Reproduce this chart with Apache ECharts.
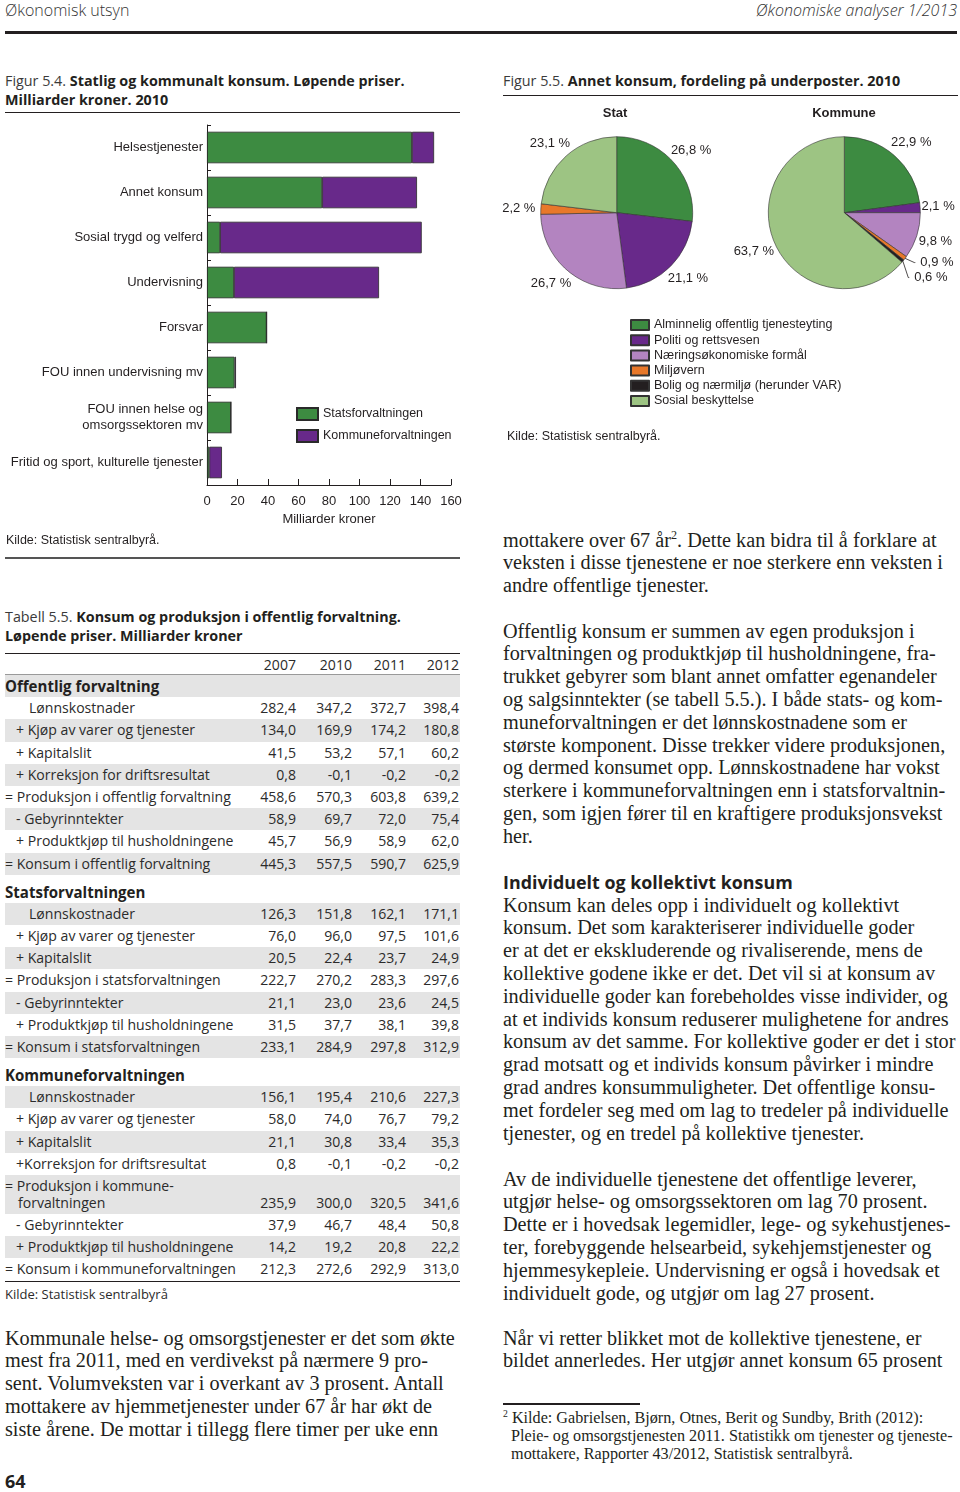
<!DOCTYPE html>
<html><head><meta charset="utf-8">
<script src="https://cdn.jsdelivr.net/npm/echarts@6/dist/echarts.min.js"></script>
<style>
html,body{margin:0;padding:0;background:#fff;}
#page{position:relative;width:960px;height:1492px;overflow:hidden;color:#231f20;}
.abs{position:absolute;white-space:nowrap;}
.sans{font-family:"Open Sans","Noto Sans",sans-serif;}
.arial{font-family:"Liberation Sans",Arial,sans-serif;}
.serif{font-family:"Liberation Serif","Times New Roman",serif;}
.body{line-height:22.8px;font-size:18px;}
.rule{position:absolute;background:#231f20;}
.ttl{font-size:15px;line-height:18.5px;color:#231f20;}
.ttl b{font-weight:700;}
.ttl .lt{color:#3a3a3a;font-weight:400;}
.tab{font-size:14px;color:#2b2b2b;}
.row{position:absolute;left:0;width:455px;}
.row.sh{background:#e4e4e4;}
.cell{position:absolute;top:0;white-space:nowrap;}
.val{text-align:right;width:60px;}
sup{font-size:60%;line-height:0;vertical-align:super;}
</style></head>
<body><div id="page">
  <!-- page header -->
  <div class="abs sans" style="left:5px;top:-1px;font-size:16px;color:#333;font-weight:300;">Økonomisk utsyn</div>
  <div class="abs sans" style="right:3px;top:-1px;font-size:16px;color:#333;font-style:italic;font-weight:300;">Økonomiske analyser 1/2013</div>
  <div class="rule" style="left:5px;top:31px;width:952px;height:3px;"></div>

  <!-- figure 5.4 title -->
  <div class="abs sans ttl" style="left:5px;top:72px;"><span id="ttlRef"><span class="lt">Figur 5.4. </span><b>Statlig og kommunalt konsum. Løpende priser.</b></span><br><b>Milliarder kroner. 2010</b></div>
  <div class="rule" style="left:5px;top:112px;width:455px;height:1px;"></div>
  <div id="bar" style="position:absolute;left:0;top:115px;width:470px;height:440px;"></div>
  <div class="abs arial" style="left:6px;top:533px;font-size:12.5px;">Kilde: Statistisk sentralbyrå.</div>
  <div class="rule" style="left:5px;top:557px;width:455px;height:2px;background:#555;"></div>

  <!-- figure 5.5 title -->
  <div class="abs sans ttl" style="left:503px;top:72px;"><span class="lt">Figur 5.5. </span><b>Annet konsum, fordeling på underposter. 2010</b></div>
  <div class="rule" style="left:503px;top:95px;width:455px;height:1px;"></div>
  <div id="pie" style="position:absolute;left:480px;top:100px;width:480px;height:330px;"></div>
  <div class="abs arial" style="left:507px;top:429px;font-size:12.5px;">Kilde: Statistisk sentralbyrå.</div>

  <!-- table -->
  <div class="abs sans ttl" style="left:5px;top:608px;"><span class="lt">Tabell 5.5. </span><b>Konsum og produksjon i offentlig forvaltning.</b><br><b>Løpende priser. Milliarder kroner</b></div>
  <div id="table" class="sans tab" style="position:absolute;left:5px;top:653px;width:455px;height:640px;"></div>

  <!-- left body text -->
  <div class="abs serif body" style="left:5px;top:1326.6px;"><span id="bodyRef">Kommunale helse- og omsorgstjenester er det som økte</span><br>mest fra 2011, med en verdivekst på nærmere 9 pro-<br>sent. Volumveksten var i overkant av 3 prosent. Antall<br>mottakere av hjemmetjenester under 67 år har økt de<br>siste årene. De mottar i tillegg flere timer per uke enn</div>
  <div class="abs sans" style="left:5px;top:1469px;font-size:18px;font-weight:700;">64</div>

  <!-- right body text -->
  <div class="abs serif body" style="left:503px;top:528.6px;">mottakere over 67 år<sup>2</sup>. Dette kan bidra til å forklare at<br>veksten i disse tjenestene er noe sterkere enn veksten i<br>andre offentlige tjenester.</div>
  <div class="abs serif body" style="left:503px;top:619.6px;">Offentlig konsum er summen av egen produksjon i<br>forvaltningen og produktkjøp til husholdningene, fra-<br>trukket gebyrer som blant annet omfatter egenandeler<br>og salgsinntekter (se tabell 5.5.). I både stats- og kom-<br>muneforvaltningen er det lønnskostnadene som er<br>største komponent. Disse trekker videre produksjonen,<br>og dermed konsumet opp. Lønnskostnadene har vokst<br>sterkere i kommuneforvaltningen enn i statsforvaltnin-<br>gen, som igjen fører til en kraftigere produksjonsvekst<br>her.</div>
  <div id="heading" class="abs sans" style="left:503px;top:870px;font-size:17px;font-weight:700;line-height:24px;">Individuelt og kollektivt konsum</div>
  <div class="abs serif body" style="left:503px;top:893.6px;">Konsum kan deles opp i individuelt og kollektivt<br>konsum. Det som karakteriserer individuelle goder<br>er at det er ekskluderende og rivaliserende, mens de<br>kollektive godene ikke er det. Det vil si at konsum av<br>individuelle goder kan forebeholdes visse individer, og<br>at et individs konsum reduserer mulighetene for andres<br>konsum av det samme. For kollektive goder er det i stor<br>grad motsatt og et individs konsum påvirker i mindre<br>grad andres konsummuligheter. Det offentlige konsu-<br>met fordeler seg med om lag to tredeler på individuelle<br>tjenester, og en tredel på kollektive tjenester.</div>
  <div class="abs serif body" style="left:503px;top:1167.6px;">Av de individuelle tjenestene det offentlige leverer,<br>utgjør helse- og omsorgssektoren om lag 70 prosent.<br>Dette er i hovedsak legemidler, lege- og sykehustjenes-<br>ter, forebyggende helsearbeid, sykehjemstjenester og<br>hjemmesykepleie. Undervisning er også i hovedsak et<br>individuelt gode, og utgjør om lag 27 prosent.</div>
  <div class="abs serif body" style="left:503px;top:1326.6px;">Når vi retter blikket mot de kollektive tjenestene, er<br>bildet annerledes. Her utgjør annet konsum 65 prosent</div>
  <div class="rule" style="left:503px;top:1403px;width:137px;height:2px;"></div>
  <div id="foot" class="abs serif" style="left:503px;top:1409px;font-size:14px;line-height:18px;"><sup>2</sup> Kilde: Gabrielsen, Bjørn, Otnes, Berit og Sundby, Brith (2012):<br>&nbsp;&nbsp;<span id="footRef">Pleie- og omsorgstjenesten 2011. Statistikk om tjenester og tjeneste-</span><br>&nbsp;&nbsp;mottakere, Rapporter 43/2012, Statistisk sentralbyrå.</div>
</div>
<script>
// ---------- Figure 5.4 data ----------
const barCategories = ['Helsestjenester','Annet konsum','Sosial trygd og velferd','Undervisning','Forsvar','FOU innen undervisning mv','FOU innen helse og\nomsorgssektoren mv','Fritid og sport, kulturelle tjenester'];
const statsValues = [134.4, 75.5, 8.6, 17.7, 39.1, 18.1, 15.7, 1.5];
const kommuneValues = [14.5, 62.2, 132.2, 95.1, 0, 0.9, 0, 8.3];
const barSeriesNames = ['Statsforvaltningen','Kommuneforvaltningen'];
const xAxisMin = 0, xAxisMax = 160, xAxisStep = 20;

// ---------- Figure 5.5 data ----------
const pieCategories = ['Alminnelig offentlig tjenesteyting','Politi og rettsvesen','Næringsøkonomiske formål','Miljøvern','Bolig og nærmiljø (herunder VAR)','Sosial beskyttelse'];
const statShares = [26.8, 21.1, 26.7, 2.2, 0, 23.1];
const kommuneShares = [22.9, 2.1, 9.8, 0.9, 0.6, 63.7];
const pieTitles = ['Stat','Kommune'];

// ---------- Table 5.5 data ----------
const tabYears = ['2007','2010','2011','2012'];
const offLabels = ['Lønnskostnader','+ Kjøp av varer og tjenester','+ Kapitalslit','+ Korreksjon for driftsresultat','= Produksjon i offentlig forvaltning','- Gebyrinntekter','+ Produktkjøp til husholdningene','= Konsum i offentlig forvaltning'];
const offValues = [[282.4,347.2,372.7,398.4],[134.0,169.9,174.2,180.8],[41.5,53.2,57.1,60.2],[0.8,-0.1,-0.2,-0.2],[458.6,570.3,603.8,639.2],[58.9,69.7,72.0,75.4],[45.7,56.9,58.9,62.0],[445.3,557.5,590.7,625.9]];
const statLabels = ['Lønnskostnader','+ Kjøp av varer og tjenester','+ Kapitalslit','= Produksjon i statsforvaltningen','- Gebyrinntekter','+ Produktkjøp til husholdningene','= Konsum i statsforvaltningen'];
const statValues = [[126.3,151.8,162.1,171.1],[76.0,96.0,97.5,101.6],[20.5,22.4,23.7,24.9],[222.7,270.2,283.3,297.6],[21.1,23.0,23.6,24.5],[31.5,37.7,38.1,39.8],[233.1,284.9,297.8,312.9]];
const komLabels = ['Lønnskostnader','+ Kjøp av varer og tjenester','+ Kapitalslit','+Korreksjon for driftsresultat','= Produksjon i kommune-\nforvaltningen','- Gebyrinntekter','+ Produktkjøp til husholdningene','= Konsum i kommuneforvaltningen'];
const komValues = [[156.1,195.4,210.6,227.3],[58.0,74.0,76.7,79.2],[21.1,30.8,33.4,35.3],[0.8,-0.1,-0.2,-0.2],[235.9,300.0,320.5,341.6],[37.9,46.7,48.4,50.8],[14.2,19.2,20.8,22.2],[212.3,272.6,292.9,313.0]];
const sectionTitles = ['Offentlig forvaltning','Statsforvaltningen','Kommuneforvaltningen'];

// ---------- styling ----------
const GREEN = '#3d8b41', PURPLE = '#68298a';
const pieColors = ['#3d8b41','#68298a','#b384c0','#e8782a','#231f20','#9dc483'];
const INK = '#231f20';
const FONT = '"Liberation Sans", Arial, sans-serif';
const fmt = v => v.toFixed(1).replace('.', ',');

// ---------- bar chart ----------
const bar = echarts.init(document.getElementById('bar'));
bar.setOption({
  animation:false,
  textStyle:{fontFamily:FONT,color:INK},
  grid:{left:207,right:19,top:10,bottom:70},
  legend:{orient:'vertical',left:296,top:292,padding:0,itemWidth:21,itemHeight:12,itemGap:8,icon:'rect',
    textStyle:{fontSize:12.5,color:INK,fontFamily:FONT},data:barSeriesNames},
  xAxis:{type:'value',min:xAxisMin,max:xAxisMax,interval:xAxisStep,
    axisLine:{show:true,lineStyle:{color:INK,width:1}},
    axisTick:{show:true,inside:true,length:6,lineStyle:{color:INK}},
    axisLabel:{fontSize:13,color:INK,margin:10,fontFamily:FONT},
    splitLine:{show:false},
    name:'Milliarder kroner',nameLocation:'middle',nameGap:28,
    nameTextStyle:{fontSize:13,color:INK,fontFamily:FONT}},
  yAxis:{type:'category',inverse:true,data:barCategories,
    axisLine:{show:true,lineStyle:{color:INK,width:1}},
    axisTick:{show:true,inside:true,length:4,lineStyle:{color:INK}},
    axisLabel:{fontSize:13,color:INK,margin:4,lineHeight:16,fontFamily:FONT}},
  series:[
    {name:barSeriesNames[0],type:'bar',stack:'t',data:statsValues,barCategoryGap:'30%',
      itemStyle:{color:GREEN,borderColor:'#2a2a2a',borderWidth:0.8}},
    {name:barSeriesNames[1],type:'bar',stack:'t',data:kommuneValues,barCategoryGap:'30%',
      itemStyle:{color:PURPLE,borderColor:'#2a2a2a',borderWidth:0.8}}
  ]
});

// ---------- pie charts ----------
const leaderCats = ['Miljøvern','Bolig og nærmiljø (herunder VAR)'];
function pieData(shares, useLeaders){
  const out = [];
  shares.forEach((v,i)=>{
    if(v<=0) return;
    const d = {name:pieCategories[i], value:v, itemStyle:{color:pieColors[i]}};
    if(useLeaders && leaderCats.includes(pieCategories[i])) {
      d.labelLine = {show:true,length:7,length2:1,lineStyle:{color:INK,width:0.8}};
      d.leader = true;
    }
    out.push(d);
  });
  return out;
}
const statPie = pieData(statShares,false);
const komPie = pieData(kommuneShares,true);
const pieSets = [statPie, komPie];
const pieLabel = {show:true,position:'outside',fontSize:13,color:INK,fontFamily:FONT,overflow:'none',
  formatter:p=>fmt(p.value)+' %'};
function pieLabelLayout(params){
  const d = pieSets[params.seriesIndex][params.dataIndex];
  if(d && d.leader) return {};
  return {align:'center', verticalAlign:'middle'};
}
const pie = echarts.init(document.getElementById('pie'));
pie.setOption({
  animation:false,
  textStyle:{fontFamily:FONT,color:INK},
  title:[
    {text:pieTitles[0],left:135,top:7,padding:0,textAlign:'center',textStyle:{fontSize:13,fontWeight:'bold',color:INK,fontFamily:FONT}},
    {text:pieTitles[1],left:364,top:7,padding:0,textAlign:'center',textStyle:{fontSize:13,fontWeight:'bold',color:INK,fontFamily:FONT}}
  ],
  legend:{orient:'vertical',left:150,top:218,padding:0,itemWidth:18,itemHeight:10,itemGap:1.2,icon:'rect',
    textStyle:{fontSize:12.5,lineHeight:14,color:INK,fontFamily:FONT},data:pieCategories},
  series:[
    {type:'pie',name:pieTitles[0],center:[136.7,112.7],radius:76,startAngle:90,clockwise:true,
      data:statPie,label:pieLabel,labelLine:{show:false,length:17,length2:0},labelLayout:pieLabelLayout,
      itemStyle:{borderColor:'#333',borderWidth:0.6},emphasis:{disabled:true}},
    {type:'pie',name:pieTitles[1],center:[364.3,112.7],radius:76,startAngle:90,clockwise:true,
      data:komPie,label:pieLabel,labelLine:{show:false,length:18,length2:0},labelLayout:pieLabelLayout,
      itemStyle:{borderColor:'#333',borderWidth:0.6},emphasis:{disabled:true}}
  ]
});

// ---------- table ----------
const tab = document.getElementById('table');
const valRight = [296,352,406,459].map(x=>x-5);
function addRow(top, h, label, vals, shaded, opts){
  opts = opts||{};
  const r = document.createElement('div');
  r.className = 'row' + (shaded?' sh':'');
  r.style.top = top+'px'; r.style.height = h+'px';
  const lh = opts.lh || h;
  const padTop = opts.padTop || 0;
  let indent = 0;
  if(label){
    const c0 = label.charAt(0);
    if(c0==='+'||c0==='-') indent = 11; else if(c0!=='=' && !opts.bold) indent = 24;
    const l = document.createElement('div');
    l.className = 'cell';
    l.style.left = indent+'px'; l.style.top = padTop+'px'; l.style.lineHeight = lh+'px';
    if(opts.bold){ l.style.fontWeight='700'; l.style.color='#231f20'; l.style.fontSize='1.07em'; }
    const parts = label.split('\n');
    l.innerHTML = parts.map((p,k)=> k===0? p : '<span style="padding-left:13px">'+p+'</span>').join('<br>');
    if(opts.refId) l.id = opts.refId;
    r.appendChild(l);
  }
  if(vals){
    vals.forEach((v,j)=>{
      const c = document.createElement('div');
      c.className = 'cell val';
      c.style.left = (valRight[j]-60)+'px';
      c.style.top = (padTop + (opts.valLine||0)*lh)+'px';
      c.style.lineHeight = lh+'px';
      c.textContent = typeof v==='number'? fmt(v) : v;
      r.appendChild(c);
    });
  }
  tab.appendChild(r);
}
function addRule(top, h, color){ const d=document.createElement('div'); d.style.cssText='position:absolute;left:0;width:455px;top:'+top+'px;height:'+h+'px;background:'+color; tab.appendChild(d); }
const RH = 22.2;
addRule(0,1,'#231f20');
addRow(1, 21, null, tabYears, false);
let y = 22;
addRule(y-1,1,'#9a9a9a');
addRow(y, RH, sectionTitles[0], null, true, {bold:true});
y += RH;
offLabels.forEach((lab,i)=>{ addRow(y, RH, lab, offValues[i], i%2===1, i===4?{refId:'tabRef'}:{}); y+=RH; });
addRow(y, 28, sectionTitles[1], null, false, {bold:true, padTop:6, lh:22});
y += 28;
statLabels.forEach((lab,i)=>{ addRow(y, RH, lab, statValues[i], i%2===0); y+=RH; });
addRow(y, 28, sectionTitles[2], null, false, {bold:true, padTop:6, lh:22});
y += 28;
komLabels.forEach((lab,i)=>{
  if(lab.indexOf('\n')>=0){ addRow(y, 39, lab, komValues[i], i%2===0, {lh:17.2, padTop:2, valLine:1}); y+=39; }
  else { addRow(y, RH, lab, komValues[i], i%2===0); y+=RH; }
});
addRule(y,1.5,'#231f20');
const k = document.createElement('div'); k.className='cell'; k.style.left='0px'; k.style.top=(y+4)+'px'; k.style.fontSize='13px'; k.textContent='Kilde: Statistisk sentralbyrå'; tab.appendChild(k);

// ---------- font fitting ----------
function fit(refId, targetW, els){
  const ref = document.getElementById(refId);
  const w = ref.getBoundingClientRect().width;
  if(!w) return;
  const s = targetW / w;
  els.forEach(el=>{ const fs = parseFloat(getComputedStyle(el).fontSize); el.style.fontSize = (fs*s)+'px'; });
}
function fitAll(){
  fit('bodyRef', 450, Array.from(document.querySelectorAll('.body')));
  fit('ttlRef', 400, Array.from(document.querySelectorAll('.ttl')));
  fit('tabRef', 226, [tab]);
  fit('heading', 290, [document.getElementById('heading')]);
  fit('footRef', 442, [document.getElementById('foot')]);
}
fitAll();
</script>
</body></html>
